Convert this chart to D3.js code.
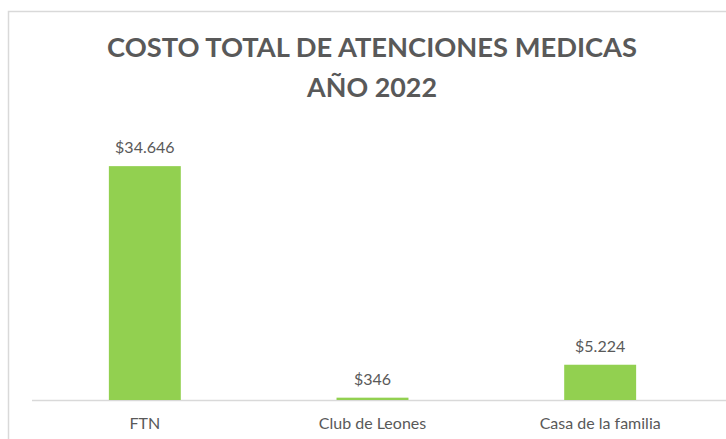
<!DOCTYPE html>
<html>
<head>
<meta charset="utf-8">
<script src="https://cdn.jsdelivr.net/npm/d3@7"></script>
<style>
    body { margin: 0; background: #fff; }
    svg text { font-family: Lato, "Open Sans", sans-serif; fill: #595959; }
</style>
</head>
<body>
<div id="container"></div>
<script>
const categories = ["FTN", "Club de Leones", "Casa de la familia"];
const costs = [34646, 346, 5224];
const valueLabels = ["$34.646", "$346", "$5.224"];
const titleLines = ["COSTO TOTAL DE ATENCIONES MEDICAS", "AÑO 2022"];
const yMax = 40000;

const width = 726;
const height = 439;

const svg = d3.select("#container")
    .append("svg")
    .attr("width", width)
    .attr("height", height);

// chart area border (cropped on the right and bottom)
svg.append("rect")
    .attr("x", 8.5)
    .attr("y", 11.5)
    .attr("width", 800)
    .attr("height", 500)
    .attr("fill", "#fff")
    .attr("stroke", "#d9d9d9")
    .attr("stroke-width", 1.5);

// Title
svg.selectAll(".title")
    .data(titleLines)
    .enter()
    .append("text")
    .attr("class", "title")
    .attr("x", 372)
    .attr("y", (d, i) => 57 + i * 40)
    .attr("text-anchor", "middle")
    .attr("textLength", (d, i) => i === 0 ? 530 : 130)
    .attr("lengthAdjust", "spacingAndGlyphs")
    .style("font-size", "27px")
    .style("font-weight", "bold")
    .text(d => d);

// X axis
const x = d3.scaleBand()
    .domain(categories)
    .range([31, 714])
    .paddingInner(0.684)
    .paddingOuter(0.342);

const y = d3.scaleLinear()
    .domain([0, yMax])
    .range([400, 130]);

svg.append("line")
    .attr("x1", 32)
    .attr("x2", width)
    .attr("y1", y(0) + 0.5)
    .attr("y2", y(0) + 0.5)
    .attr("stroke", "#d9d9d9")
    .attr("stroke-width", 1.5);

svg.append("g")
    .attr("transform", "translate(0," + y(0) + ")")
    .call(d3.axisBottom(x).tickSize(0).tickPadding(18))
    .call(g => g.select(".domain").remove())
    .selectAll("text")
    .style("font-size", "16px")
    .attr("dy", "0.71em");

// Bars
svg.selectAll("myRect")
    .data(categories)
    .enter()
    .append("rect")
    .attr("x", d => x(d))
    .attr("y", (d, i) => y(costs[i]))
    .attr("width", x.bandwidth())
    .attr("height", (d, i) => y(0) - y(costs[i]))
    .attr("fill", "#92d050");

// Value labels
svg.selectAll(".value")
    .data(categories)
    .enter()
    .append("text")
    .attr("class", "value")
    .attr("x", d => x(d) + x.bandwidth() / 2)
    .attr("y", (d, i) => y(costs[i]) - 13)
    .attr("text-anchor", "middle")
    .style("font-size", "16px")
    .text((d, i) => valueLabels[i]);
</script>
</body>
</html>
